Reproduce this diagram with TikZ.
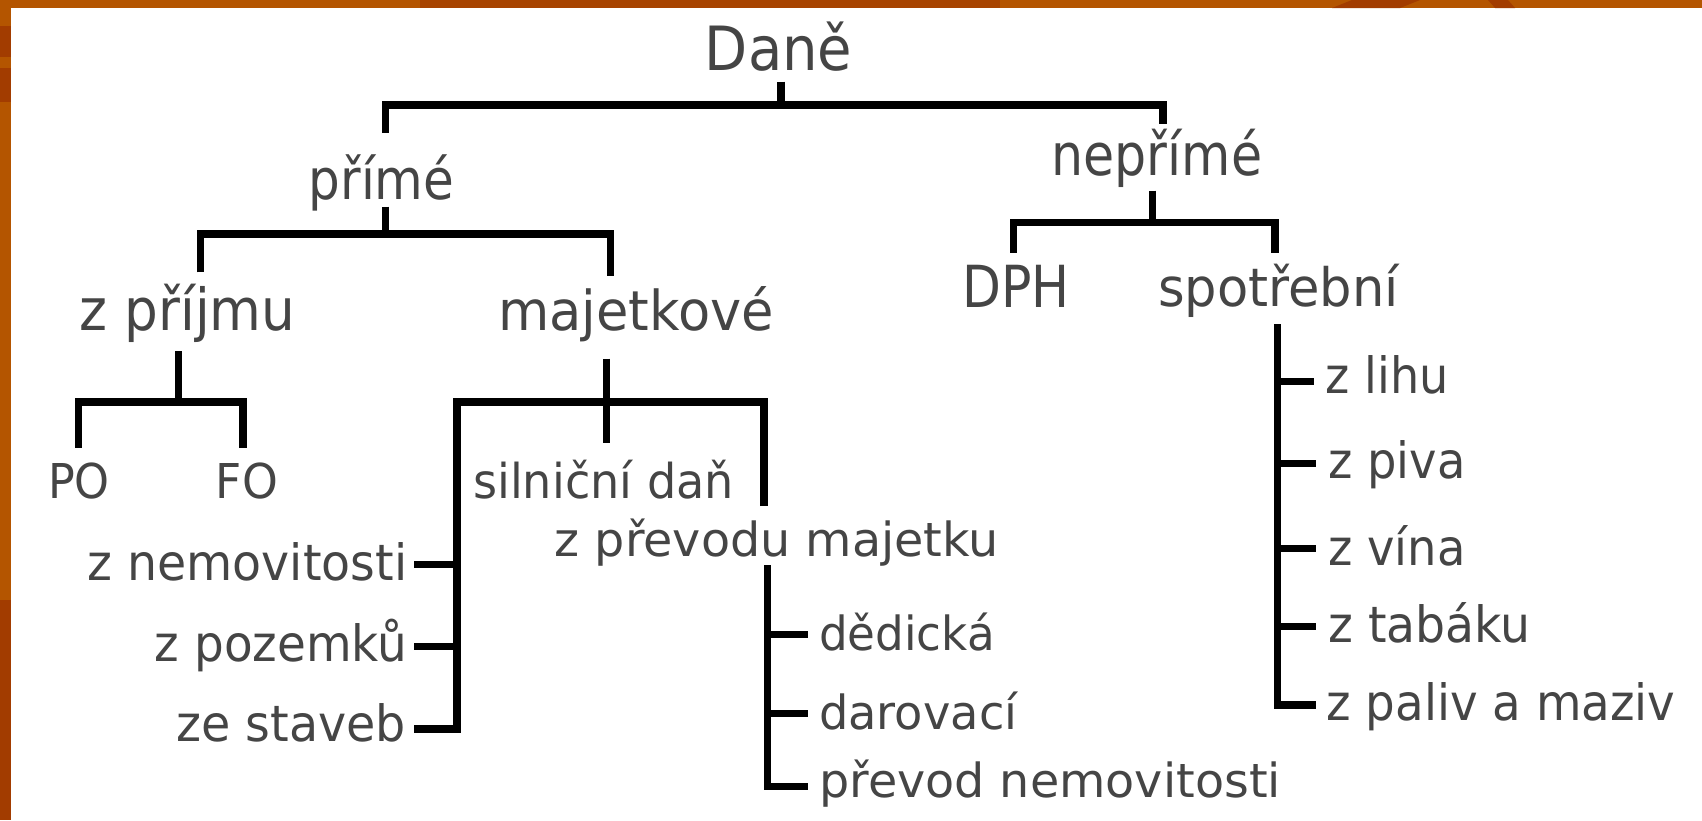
\documentclass[tikz,border=0pt]{standalone}
\usepackage{fontspec}
\setmainfont{DejaVu Sans}
\usepackage{graphicx}
\definecolor{txtgray}{HTML}{454545}
\definecolor{bandor}{HTML}{B45500}
\definecolor{banddk}{HTML}{A23C00}
\newlength\fitlen
\newcommand\fitt[3]{\begingroup\fontsize{#1}{#1}\selectfont\settowidth\fitlen{#3}\pgfmathsetmacro\fitr{#2/\fitlen}\scalebox{\fitr}[1]{#3}\endgroup}
\begin{document}
\begin{tikzpicture}[x=1pt,y=-1pt,
  lbl/.style={inner sep=0pt, anchor=base west, text=txtgray},
  conn/.style={line width=7.4pt, draw=black, line join=miter, line cap=butt}]
\useasboundingbox (0,0) rectangle (1702,820);
\fill[white] (0,0) rectangle (1702,820);
% border bands
\fill[bandor] (0,0) rectangle (1702,8);
\fill[bandor] (0,0) rectangle (11,820);
\fill[banddk] (0,26) rectangle (11,57);
\fill[banddk] (0,68) rectangle (11,102);
\fill[banddk] (0,600) rectangle (11,820);
\fill[banddk!70!bandor] (420,0) rectangle (1000,8);
\fill[banddk] (1332,8) -- (1352,0) -- (1420,0) -- (1400,8) -- cycle;
\fill[banddk] (1488,0) -- (1508,0) -- (1515,8) -- (1495,8) -- cycle;

% text nodes
\node[lbl] (dane) at (704.7,70) {\fitt{61}{147.5}{Daně}};
\node[lbl] (prime) at (308.6,199) {\fitt{56}{145.6}{přímé}};
\node[lbl] (neprime) at (1051.3,175) {\fitt{58}{210.7}{nepřímé}};
\node[lbl] (zprijmu) at (79.7,330.7) {\fitt{58}{215.6}{z příjmu}};
\node[lbl] (majetkove) at (498,330) {\fitt{55}{275.7}{majetkové}};
\node[lbl] (dph) at (962,307.5) {\fitt{58}{107.3}{DPH}};
\node[lbl] (spotrebni) at (1158,306.7) {\fitt{53}{240.7}{spotřební}};
\node[lbl] (po) at (48,498.3) {\fitt{48}{61.7}{PO}};
\node[lbl] (fo) at (215.7,498.3) {\fitt{48}{62}{FO}};
\node[lbl] (silnicni) at (473,498.3) {\fitt{48}{260.7}{silniční daň}};
\node[lbl] (zprevodu) at (554.5,556.7) {\fitt{47}{444.1}{z převodu majetku}};
\node[lbl] (znemov) at (87.3,580.7) {\fitt{50}{319.7}{z nemovitosti}};
\node[lbl] (zpozemku) at (154.7,661.7) {\fitt{50}{252.3}{z pozemků}};
\node[lbl] (zestaveb) at (176.3,741.7) {\fitt{50}{229.7}{ze staveb}};
\node[lbl] (dedicka) at (819,650) {\fitt{47}{175.6}{dědická}};
\node[lbl] (darovaci) at (819,729.3) {\fitt{47}{198}{darovací}};
\node[lbl] (prevodnem) at (819,797.7) {\fitt{47}{461.7}{převod nemovitosti}};
\node[lbl] (zlihu) at (1325.7,393.3) {\fitt{50}{123}{z lihu}};
\node[lbl] (zpiva) at (1328,478.3) {\fitt{50}{137.3}{z piva}};
\node[lbl] (zvina) at (1328,565) {\fitt{50}{137.3}{z vína}};
\node[lbl] (ztabaku) at (1328,642.7) {\fitt{50}{202.3}{z tabáku}};
\node[lbl] (zpaliv) at (1326.3,720.7) {\fitt{50}{349}{z paliv a maziv}};

% junction coordinates
\coordinate (d0) at (781,81.7);
\coordinate (d1) at (781,105);
\coordinate (dl) at (385.6,105);
\coordinate (dr) at (1163,105);
\coordinate (dlb) at (385.6,132.7);
\coordinate (drb) at (1163,124);

\coordinate (p0) at (385.7,206.7);
\coordinate (p1) at (385.7,234);
\coordinate (pl) at (200.3,234);
\coordinate (pr) at (610.3,234);
\coordinate (plb) at (200.3,272.3);
\coordinate (prb) at (610.3,276);

\coordinate (n0) at (1152.3,190.7);
\coordinate (n1) at (1152.3,222.2);
\coordinate (nl) at (1013.7,222.2);
\coordinate (nr) at (1275,222.2);
\coordinate (nlb) at (1013.7,252.7);
\coordinate (nrb) at (1275,252.7);

\coordinate (z0) at (178.3,351);
\coordinate (z1) at (178.3,402);
\coordinate (zl) at (78.3,402);
\coordinate (zr) at (243,402);
\coordinate (zlb) at (78.3,447.7);
\coordinate (zrb) at (243,447.7);

\coordinate (m0) at (606.7,358.5);
\coordinate (m1) at (606.7,443.3);
\coordinate (ml) at (457,402);
\coordinate (mr) at (763.8,402);
\coordinate (mrb) at (763.8,506);
\coordinate (mlb) at (457,728.8);
\coordinate (t1) at (414,564.7);
\coordinate (t1v) at (457,564.7);
\coordinate (t2) at (414,646.7);
\coordinate (t2v) at (457,646.7);
\coordinate (t3) at (414,728.8);

\coordinate (v0) at (767.5,565);
\coordinate (vb) at (767.5,786.3);
\coordinate (u1v) at (767.5,634.5);
\coordinate (u1) at (807.6,634.5);
\coordinate (u2v) at (767.5,713.7);
\coordinate (u2) at (807.6,713.7);
\coordinate (u3) at (807.6,786.3);

\coordinate (s0) at (1277.5,324);
\coordinate (sb) at (1277.5,705);
\coordinate (s1v) at (1277.5,381.3);
\coordinate (s1) at (1314,381.3);
\coordinate (s2v) at (1277.5,463.3);
\coordinate (s2) at (1316,463.3);
\coordinate (s3v) at (1277.5,548.7);
\coordinate (s3) at (1316,548.7);
\coordinate (s4v) at (1277.5,626.7);
\coordinate (s4) at (1316,626.7);
\coordinate (s5) at (1316,705);

% connectors
\draw[conn] (d0) -- (d1);
\draw[conn] (dlb) -- (dl) -- (dr) -- (drb);
\draw[conn] (p0) -- (p1);
\draw[conn] (plb) -- (pl) -- (pr) -- (prb);
\draw[conn] (n0) -- (n1);
\draw[conn] (nlb) -- (nl) -- (nr) -- (nrb);
\draw[conn] (z0) -- (z1);
\draw[conn] (zlb) -- (zl) -- (zr) -- (zrb);
\draw[conn] (m0) -- (m1);
\draw[conn] (mrb) -- (mr) -- (ml) -- (mlb) -- (t3);
\draw[conn] (t1) -- (t1v);
\draw[conn] (t2) -- (t2v);
\draw[conn] (v0) -- (vb) -- (u3);
\draw[conn] (u1v) -- (u1);
\draw[conn] (u2v) -- (u2);
\draw[conn] (s0) -- (sb) -- (s5);
\draw[conn] (s1v) -- (s1);
\draw[conn] (s2v) -- (s2);
\draw[conn] (s3v) -- (s3);
\draw[conn] (s4v) -- (s4);
\end{tikzpicture}
\end{document}
